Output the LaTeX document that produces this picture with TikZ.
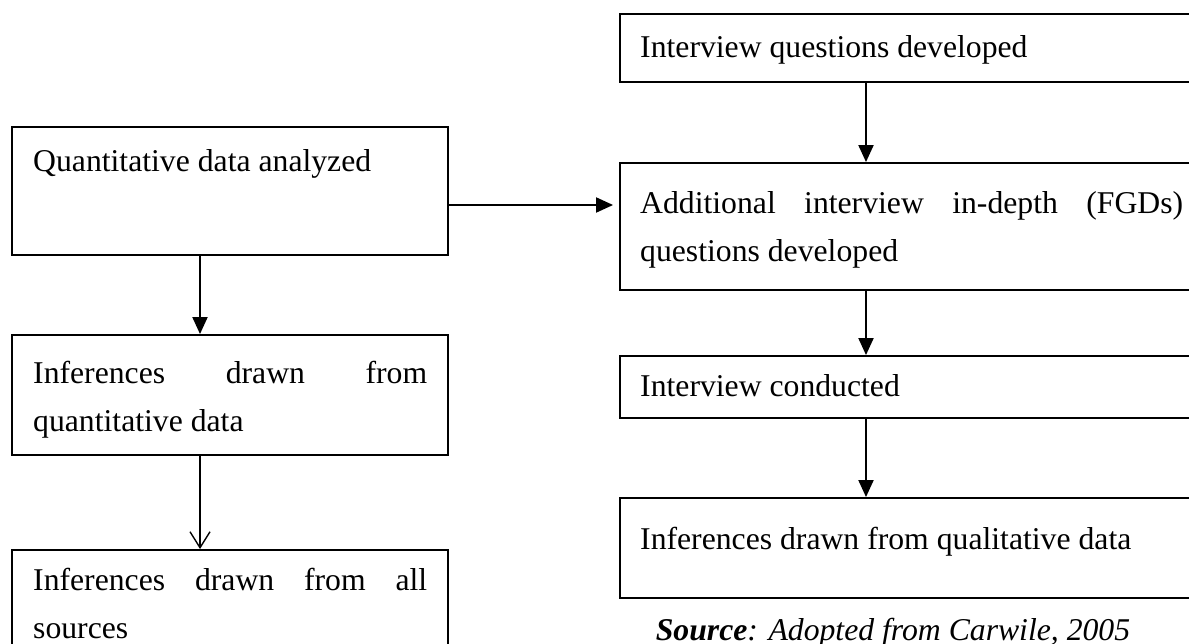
\documentclass[tikz,border=0pt]{standalone}
\usepackage{fontspec}
\setmainfont{Liberation Serif}
\usetikzlibrary{arrows.meta}
\begin{document}
\begin{tikzpicture}[x=1pt,y=-1pt,
  box/.style={draw, line width=1.9pt, inner sep=0pt, rectangle},
  txt/.style={anchor=base west, inner sep=0pt, font=\fontsize{31.7}{48}\selectfont},
  arr/.style={line width=2pt, -{Triangle[length=17pt,width=15pt]}},
  arropen/.style={line width=1.4pt, -{Straight Barb[length=16pt,width=20pt,line width=1.4pt]}}]
\useasboundingbox (0,0) rectangle (1189,644);
\clip (0,0) rectangle (1189,644);
\fill[white] (0,0) rectangle (1189,644);

% left column boxes
\node[box, minimum width=436pt, minimum height=128pt] (A) at (230,191) {};
\node[box, minimum width=436pt, minimum height=120pt] (B) at (230,395) {};
\node[box, minimum width=436pt, minimum height=150pt] (C) at (230,625) {};

% right column boxes
\node[box, minimum width=590pt, minimum height=68pt] (R1) at (915,48) {};
\node[box, minimum width=590pt, minimum height=127pt] (R2) at (915,226.5) {};
\node[box, minimum width=590pt, minimum height=62pt] (R3) at (915,387) {};
\node[box, minimum width=590pt, minimum height=100pt] (R4) at (915,548) {};

% texts
\node[txt] (At) at (33,172) {\vtop{\hsize=394pt\noindent Quantitative data analyzed}};
\node[txt] (Bt) at (33,383) {\vtop{\hsize=394pt\noindent Inferences drawn from\linebreak quantitative data}};
\node[txt] (Ct) at (33,590) {\vtop{\hsize=394pt\noindent Inferences drawn from all\linebreak sources}};
\node[txt] (R1t) at (640,58) {\vtop{\hsize=543pt\noindent Interview questions developed}};
\node[txt] (R2t) at (640,214) {\vtop{\hsize=543pt\noindent Additional interview in-depth (FGDs)\linebreak questions developed}};
\node[txt] (R3t) at (640,396) {\vtop{\hsize=543pt\noindent Interview conducted}};
\node[txt] (R4t) at (640,549) {\vtop{\hsize=543pt\noindent Inferences drawn from qualitative data}};

\node[anchor=base, inner sep=0pt, font=\fontsize{31.7}{48}\selectfont\itshape] (src) at (893,640) {\textbf{Source}: Adopted from Carwile, 2005};

% connectors
\coordinate (cl) at (200,0);
\coordinate (cr) at (866,0);
\coordinate (hy) at (0,205);
\draw[arr] (A.south -| cl) -- (B.north -| cl);
\draw[arropen] (B.south -| cl) -- (C.north -| cl);
\draw[arr, shorten >=6pt] (A.east |- hy) -- (R2.west |- hy);
\draw[arr] (R1.south -| cr) -- (R2.north -| cr);
\draw[arr] (R2.south -| cr) -- (R3.north -| cr);
\draw[arr] (R3.south -| cr) -- (R4.north -| cr);
\end{tikzpicture}
\end{document}
